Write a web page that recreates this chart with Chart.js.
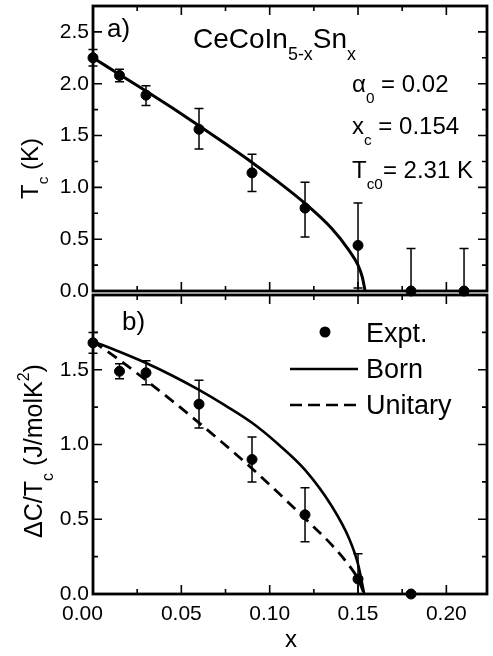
<!DOCTYPE html>
<html>
<head>
<meta charset="utf-8">
<title>CeCoIn5-xSnx</title>
<script src="https://cdn.jsdelivr.net/npm/chart.js@4.4.0/dist/chart.umd.min.js"></script>
<style>
  html, body { margin: 0; padding: 0; background: #fff; }
  #wrap { position: relative; width: 493px; height: 656px; }
  #wrap canvas { position: absolute; left: 0; top: 0; }
</style>
</head>
<body>
<div id="wrap">
  <canvas id="tc-chart" width="493" height="656"></canvas>
  <canvas id="dc-chart" width="493" height="656"></canvas>
</div>
<script>
// Values

// axes
const xTicks = [0, 0.05, 0.10, 0.15, 0.20];
const xMinorTicks = [0.025, 0.075, 0.125, 0.175];
const tcTicks = [0, 0.5, 1.0, 1.5, 2.0, 2.5];
const tcMinorTicks = [0.25, 0.75, 1.25, 1.75, 2.25];
const dcTicks = [0, 0.5, 1.0, 1.5];
const dcMinorTicks = [0.25, 0.75, 1.25, 1.75];

// panel a) : Tc vs x
const tcX = [0, 0.015, 0.03, 0.06, 0.09, 0.12, 0.15, 0.18, 0.21];
const tcVal = [2.25, 2.08, 1.89, 1.56, 1.14, 0.80, 0.44, 0.0, 0.0];
const tcHi = [2.33, 2.14, 1.98, 1.76, 1.32, 1.05, 0.85, 0.41, 0.41];
const tcLo = [2.17, 2.02, 1.79, 1.37, 0.96, 0.52, 0.03, 0.0, 0.0];
const tcFitX = [0, 0.015, 0.03, 0.045, 0.06, 0.075, 0.09, 0.105, 0.12, 0.135, 0.145, 0.15, 0.1525, 0.154];
const tcFit = [2.25, 2.09, 1.93, 1.765, 1.595, 1.42, 1.24, 1.05, 0.845, 0.605, 0.39, 0.25, 0.13, 0];

// panel b) : deltaC/Tc vs x
const dcX = [0, 0.015, 0.03, 0.06, 0.09, 0.12, 0.15, 0.18];
const dcVal = [1.68, 1.49, 1.48, 1.27, 0.90, 0.53, 0.10, 0.0];
const dcHi = [1.75, 1.54, 1.56, 1.43, 1.05, 0.71, 0.27, 0.0];
const dcLo = [1.61, 1.44, 1.40, 1.11, 0.75, 0.35, 0.0, 0.0];
const fitX = [0, 0.015, 0.03, 0.045, 0.06, 0.075, 0.09, 0.105, 0.12, 0.135, 0.145, 0.15, 0.1535];
const bornDc = [1.69, 1.62, 1.545, 1.46, 1.365, 1.26, 1.145, 1.0, 0.83, 0.59, 0.37, 0.20, 0];
const unitaryDc = [1.69, 1.565, 1.43, 1.29, 1.145, 0.995, 0.84, 0.675, 0.505, 0.33, 0.19, 0.10, 0];

const FONT = '"Liberation Sans", Arial, Helvetica, sans-serif';

function toPoints(xs, ys) {
    return xs.map((x, i) => ({ x: x, y: ys[i] }));
}

// text with sub/superscripts, parts = [[text, 'n'|'sub'|'sup'], ...]
function richWidth(ctx, parts, size) {
    let w = 0;
    parts.forEach(([t, kind]) => {
        ctx.font = (kind === 'n' ? size : size * 0.64) + 'px ' + FONT;
        w += ctx.measureText(t).width;
    });
    return w;
}

function drawRich(ctx, x, y, parts, size) {
    let cx = x;
    parts.forEach(([t, kind]) => {
        const s = kind === 'n' ? size : size * 0.64;
        let dy = 0;
        if (kind === 'sub') dy = size * 0.44;
        if (kind === 'sup') dy = -size * 0.5;
        ctx.font = s + 'px ' + FONT;
        ctx.fillText(t, cx, y + dy);
        cx += ctx.measureText(t).width;
    });
}

// frame with inward ticks on all four sides
const framePlugin = {
    id: 'frame',
    afterDatasetsDraw(chart, args, opts) {
        const ctx = chart.ctx;
        const a = chart.chartArea;
        const xs = chart.scales.x;
        const ys = chart.scales.y;
        ctx.save();
        ctx.strokeStyle = '#000';
        ctx.lineWidth = 1.6;
        ctx.beginPath();
        const xt = (vals, len) => vals.forEach(v => {
            const p = xs.getPixelForValue(v);
            ctx.moveTo(p, a.top); ctx.lineTo(p, a.top + len);
            ctx.moveTo(p, a.bottom); ctx.lineTo(p, a.bottom - len);
        });
        const yt = (vals, len) => vals.forEach(v => {
            const p = ys.getPixelForValue(v);
            ctx.moveTo(a.left, p); ctx.lineTo(a.left + len, p);
            ctx.moveTo(a.right, p); ctx.lineTo(a.right - len, p);
        });
        xt(opts.xMajor, 9);
        xt(opts.xMinor, 5);
        yt(opts.yMajor, 9);
        yt(opts.yMinor, 5);
        ctx.stroke();
        ctx.lineWidth = 2.8;
        ctx.strokeRect(a.left, a.top, a.right - a.left, a.bottom - a.top);
        ctx.restore();
    }
};

// vertical error bars with caps
const errorBarPlugin = {
    id: 'errorBars',
    beforeDatasetsDraw(chart, args, opts) {
        const ctx = chart.ctx;
        const xs = chart.scales.x;
        const ys = chart.scales.y;
        ctx.save();
        ctx.strokeStyle = '#000';
        ctx.lineWidth = 1.5;
        ctx.beginPath();
        opts.x.forEach((v, i) => {
            if (opts.hi[i] === opts.lo[i]) return;
            const px = xs.getPixelForValue(v);
            const top = ys.getPixelForValue(opts.hi[i]);
            const bot = ys.getPixelForValue(opts.lo[i]);
            ctx.moveTo(px, top); ctx.lineTo(px, bot);
            ctx.moveTo(px - 4.5, top); ctx.lineTo(px + 4.5, top);
            ctx.moveTo(px - 4.5, bot); ctx.lineTo(px + 4.5, bot);
        });
        ctx.stroke();
        ctx.restore();
    }
};

// free text labels and the hand-made legend
const labelsPlugin = {
    id: 'labels',
    afterDraw(chart, args, opts) {
        const ctx = chart.ctx;
        ctx.save();
        ctx.fillStyle = '#000';
        ctx.textBaseline = 'alphabetic';
        ctx.textAlign = 'left';
        (opts.items || []).forEach(it => {
            if (it.rotate) {
                const w = richWidth(ctx, it.parts, it.size);
                ctx.save();
                ctx.translate(it.x, it.y);
                ctx.rotate(-Math.PI / 2);
                drawRich(ctx, -w / 2, 0, it.parts, it.size);
                ctx.restore();
            } else if (it.center) {
                const w = richWidth(ctx, it.parts, it.size);
                drawRich(ctx, it.x - w / 2, it.y, it.parts, it.size);
            } else {
                drawRich(ctx, it.x, it.y, it.parts, it.size);
            }
        });
        if (opts.legend) {
            const L = opts.legend;
            ctx.font = '27px ' + FONT;
            // Expt.
            ctx.beginPath();
            ctx.arc(L.markX, L.rows[0], 5.5, 0, Math.PI * 2);
            ctx.fill();
            ctx.fillText('Expt.', L.textX, L.rows[0] + 10);
            // Born
            ctx.lineWidth = 2.6;
            ctx.beginPath();
            ctx.moveTo(L.lineX0, L.rows[1]); ctx.lineTo(L.lineX1, L.rows[1]);
            ctx.stroke();
            ctx.fillText('Born', L.textX, L.rows[1] + 9);
            // Unitary
            ctx.setLineDash([12, 6]);
            ctx.beginPath();
            ctx.moveTo(L.lineX0, L.rows[2]); ctx.lineTo(L.lineX1, L.rows[2]);
            ctx.stroke();
            ctx.setLineDash([]);
            ctx.fillText('Unitary', L.textX, L.rows[2] + 9);
        }
        ctx.restore();
    }
};

function fixTicks(list) {
    return function(scale) {
        scale.ticks = list.map(v => ({ value: v }));
    };
}

function yScale(max, ticks) {
    return {
        type: 'linear',
        min: 0,
        max: max,
        afterBuildTicks: fixTicks(ticks),
        afterFit(s) { s.width = 93; s.paddingTop = 0; s.paddingBottom = 0; },
        grid: { display: false, drawTicks: false },
        border: { display: false },
        ticks: {
            color: '#000',
            padding: 4,
            font: { family: FONT, size: 21 },
            callback: v => v.toFixed(1)
        }
    };
}

function xScale(showLabels, height) {
    return {
        type: 'linear',
        min: 0,
        max: 0.223,
        afterBuildTicks: fixTicks(xTicks),
        afterFit(s) { s.height = height; s.paddingLeft = 0; s.paddingRight = 0; },
        grid: { display: false, drawTicks: false },
        border: { display: false },
        ticks: {
            display: showLabels,
            color: '#000',
            padding: 8,
            maxRotation: 0,
            font: { family: FONT, size: 21 },
            // the first label sits a little left of its tick in the original
            callback: v => v === 0 ? '0.00\u2002\u2002' : v.toFixed(2)
        }
    };
}

const commonOptions = {
    responsive: false,
    animation: false,
    devicePixelRatio: 1,
    events: []
};

// Panel a)
new Chart(document.getElementById('tc-chart'), {
    type: 'scatter',
    data: {
        datasets: [{
            label: 'fit',
            data: toPoints(tcFitX, tcFit),
            showLine: true,
            borderColor: '#000',
            borderWidth: 3,
            pointRadius: 0,
            cubicInterpolationMode: 'monotone'
        }, {
            label: 'Expt.',
            data: toPoints(tcX, tcVal),
            pointRadius: 5,
            pointBackgroundColor: '#000',
            pointBorderColor: '#000',
            clip: false
        }]
    },
    options: Object.assign({}, commonOptions, {
        layout: { padding: { top: 5, right: 5, bottom: 365, left: 0 } },
        scales: { x: xScale(false, 0), y: yScale(2.75, tcTicks) },
        plugins: {
            legend: { display: false },
            tooltip: { enabled: false },
            frame: { xMajor: xTicks, xMinor: xMinorTicks, yMajor: tcTicks, yMinor: tcMinorTicks },
            errorBars: { x: tcX, hi: tcHi, lo: tcLo },
            labels: {
                items: [
                    { x: 107, y: 37, size: 26, parts: [['a)', 'n']] },
                    { x: 193, y: 48, size: 28, parts: [['CeCoIn', 'n'], ['5-x', 'sub'], ['Sn', 'n'], ['x', 'sub']] },
                    { x: 352, y: 92, size: 24, parts: [['\u03b1', 'n'], ['0', 'sub'], [' = 0.02', 'n']] },
                    { x: 352, y: 134, size: 24, parts: [['x', 'n'], ['c', 'sub'], [' = 0.154', 'n']] },
                    { x: 352, y: 178, size: 24, parts: [['T', 'n'], ['c0', 'sub'], ['= 2.31 K', 'n']] },
                    { x: 37.5, y: 168.5, size: 24, rotate: true, parts: [['T', 'n'], ['c', 'sub'], [' (K)', 'n']] }
                ]
            }
        }
    }),
    plugins: [framePlugin, errorBarPlugin, labelsPlugin]
});

// Panel b)
new Chart(document.getElementById('dc-chart'), {
    type: 'scatter',
    data: {
        datasets: [{
            label: 'Born',
            data: toPoints(fitX, bornDc),
            showLine: true,
            borderColor: '#000',
            borderWidth: 2.6,
            pointRadius: 0,
            cubicInterpolationMode: 'monotone'
        }, {
            label: 'Unitary',
            data: toPoints(fitX, unitaryDc),
            showLine: true,
            borderColor: '#000',
            borderWidth: 2.8,
            borderDash: [11, 7],
            pointRadius: 0,
            cubicInterpolationMode: 'monotone'
        }, {
            label: 'Expt.',
            data: toPoints(dcX, dcVal),
            pointRadius: 5,
            pointBackgroundColor: '#000',
            pointBorderColor: '#000',
            clip: false
        }]
    },
    options: Object.assign({}, commonOptions, {
        layout: { padding: { top: 295, right: 5, bottom: 0, left: 0 } },
        scales: { x: xScale(true, 62), y: yScale(2.0, dcTicks) },
        plugins: {
            legend: { display: false },
            tooltip: { enabled: false },
            frame: { xMajor: xTicks, xMinor: xMinorTicks, yMajor: dcTicks, yMinor: dcMinorTicks },
            errorBars: { x: dcX, hi: dcHi, lo: dcLo },
            labels: {
                items: [
                    { x: 122, y: 330, size: 26, parts: [['b)', 'n']] },
                    { x: 291, y: 647, size: 24, center: true, parts: [['x', 'n']] },
                    { x: 41.5, y: 451, size: 25, rotate: true,
                      parts: [['\u0394C/T', 'n'], ['c', 'sub'], [' (J/molK', 'n'], ['2', 'sup'], [')', 'n']] }
                ],
                legend: { markX: 325, lineX0: 290, lineX1: 358, textX: 366, rows: [332, 369, 405] }
            }
        }
    }),
    plugins: [framePlugin, errorBarPlugin, labelsPlugin]
});
</script>
</body>
</html>
